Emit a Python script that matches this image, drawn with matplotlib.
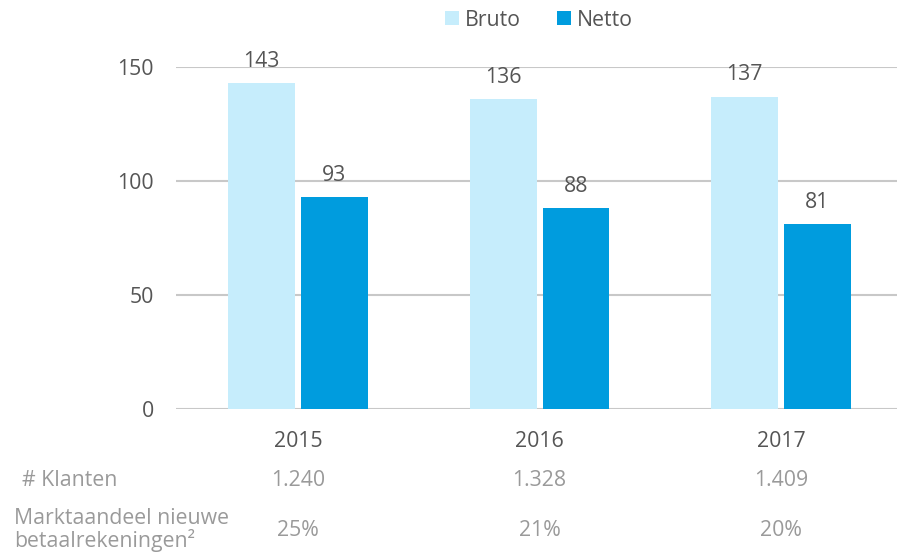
import numpy as np
import matplotlib
matplotlib.use('Agg')
import matplotlib.pyplot as plt

years = ['2015', '2016', '2017']
bruto = [143, 136, 137]
netto = [93, 88, 81]
klanten = ['1.240', '1.328', '1.409']
marktaandeel = ['25%', '21%', '20%']

plt.rcParams['font.family'] = ['Open Sans', 'DejaVu Sans']

dark = '#555555'
grey = '#9a9a9a'
c_bruto = '#c6edfc'
c_netto = '#009cde'
fs = 15.3

fig = plt.figure(figsize=(8.97, 5.53), dpi=100)
ax = fig.add_axes([176 / 897, 144 / 553, 1 - 176 / 897, (409 - 67) / 553])

x = np.arange(len(years))
w = 0.277
off = 0.151
b1 = ax.bar(x - off, bruto, w, color=c_bruto, label='Bruto', zorder=2)
b2 = ax.bar(x + off, netto, w, color=c_netto, label='Netto', zorder=2)

for bars, vals in [(b1, bruto), (b2, netto)]:
    for r, v in zip(bars, vals):
        ax.text(r.get_x() + r.get_width() / 2, v + 5, str(v), ha='center', va='bottom',
                fontsize=fs, color=dark, clip_on=False)

ax.set_xlim(-0.505, 2.48)
ax.set_ylim(0, 150)
ax.set_yticks([0, 50, 100, 150])
ax.yaxis.grid(True, color='#c8c8c8', linewidth=1.5, zorder=0)
ax.set_axisbelow(True)
for s in ax.spines.values():
    s.set_visible(False)
ax.tick_params(axis='both', length=0, labelsize=fs, labelcolor=dark)
ax.tick_params(axis='y', pad=16)
ax.tick_params(axis='x', pad=16)
ax.set_xticks(x)
ax.set_xticklabels(years)

# table rows below the chart
trans = ax.get_xaxis_transform()
for i in range(len(years)):
    ax.text(x[i], -0.208, klanten[i], transform=trans, ha='center', va='center',
            fontsize=fs, color=grey, clip_on=False)
    ax.text(x[i], -0.355, marktaandeel[i], transform=trans, ha='center', va='center',
            fontsize=fs, color=grey, clip_on=False)
fig.text(22 / 897, 1 - 480 / 553, '# Klanten', ha='left', va='center', fontsize=fs, color=grey)
fig.text(14 / 897, 1 - 530 / 553, 'Marktaandeel nieuwe\nbetaalrekeningen²', ha='left', va='center',
         fontsize=fs, color=grey, linespacing=1.0)

fig.legend(handles=[b1, b2], loc='center', bbox_to_anchor=(539 / 897, 1 - 20 / 553), ncol=2,
           frameon=False, fontsize=fs, labelcolor=dark, handlelength=0.65, handleheight=0.65,
           handletextpad=0.3, columnspacing=1.7)

fig.savefig('out.png', dpi=100)
